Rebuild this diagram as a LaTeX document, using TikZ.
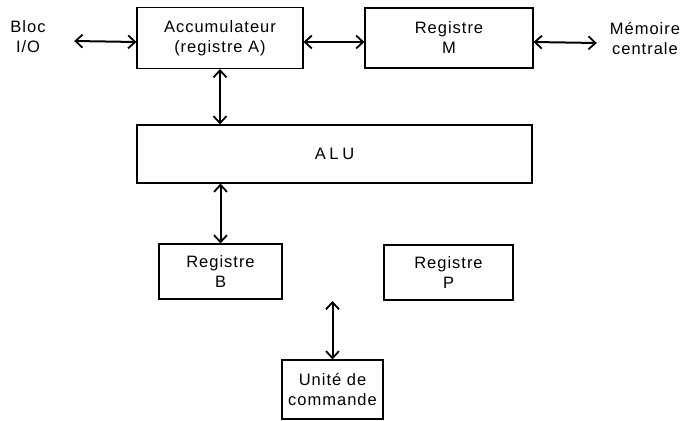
\documentclass[tikz,border=0pt]{standalone}
\usepackage{fontspec}
\setmainfont[LetterSpace=6]{Liberation Sans}
\usepackage{tikz}
\usetikzlibrary{arrows.meta}
\tikzstyle{reg}=[draw, line width=1.1pt, align=center, inner sep=0pt]
\tikzstyle{ext}=[align=center, inner sep=0pt]
\tikzstyle{link}=[line width=2pt, {Straight Barb[length=7pt,width=13pt,line width=1.8pt]}-{Straight Barb[length=7pt,width=13pt,line width=1.8pt]}]

\begin{document}
\begin{tikzpicture}[x=1pt, y=-1pt, font=\fontsize{16.5}{20}\selectfont]
			\useasboundingbox (0,0) rectangle (692,420);
			% registres du haut
			\node[reg, minimum width=166pt, minimum height=61pt] (acc) at (220,38) {Accumulateur\\(registre A)};
			\node[reg, minimum width=168pt, minimum height=60pt] (regm) at (449,38) {Registre\\M};
			% blocs externes
			\node[ext, minimum width=92pt] (bloc) at (28,37) {Bloc\\I/O};
			\node[ext, minimum width=96pt] (mem) at (645,39) {Mémoire\\centrale};
			% unite arithmetique
			\node[reg, minimum width=395pt, minimum height=58pt] (alu) at (334.5,154) {\addfontfeature{LetterSpace=22}ALU};
			% registres du bas
			\node[reg, minimum width=123pt, minimum height=55pt] (regb) at (220.5,271.5) {Registre\\B};
			\node[reg, minimum width=129pt, minimum height=55pt] (regp) at (448.5,272.5) {Registre\\P};
			\node[reg, minimum width=101pt, minimum height=59pt] (cmd) at (332.5,389.5) {Unité de\\commande};
			\coordinate (bus) at (332.5,301);
			% liaisons
			\draw[link] ([yshift=-4pt]bloc.east) -- ([yshift=-4pt]acc.west);
			\draw[link] ([yshift=-4pt]acc.east) -- ([yshift=-4pt]regm.west);
			\draw[link] ([yshift=-4pt]regm.east) -- ([yshift=-4pt]mem.west);
			\draw[link] (acc.south) -- (acc.south |- alu.north);
			\draw[link] (regb.north |- alu.south) -- (regb.north);
			\draw[link] (bus) -- (cmd.north);
		\end{tikzpicture}
\end{document}
